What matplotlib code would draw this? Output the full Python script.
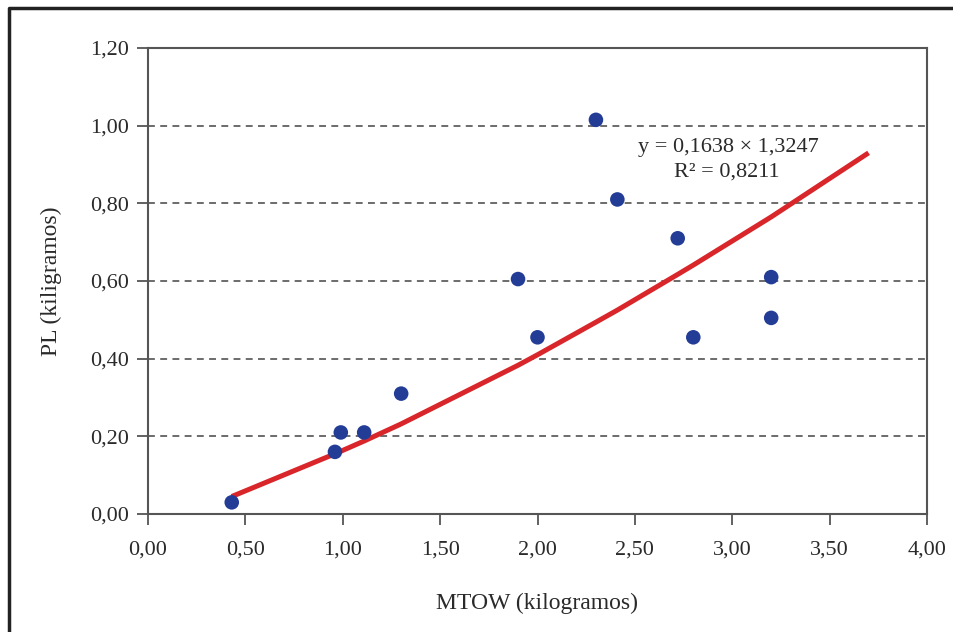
import matplotlib
matplotlib.use("Agg")
import matplotlib.pyplot as plt
from matplotlib.lines import Line2D

# Data
mtow = [0.43, 0.96, 0.99, 1.11, 1.30, 1.90, 2.00, 2.30, 2.41, 2.72, 2.80, 3.20, 3.20]
pl = [0.03, 0.16, 0.21, 0.21, 0.31, 0.605, 0.455, 1.015, 0.81, 0.71, 0.455, 0.61, 0.505]

# Trend line (power fit) points
trend_x = [0.43, 0.96, 1.11, 1.30, 1.90, 2.00, 2.30, 2.41, 2.72, 2.80, 3.20, 3.70]
trend_y = [0.045, 0.155, 0.188, 0.232, 0.383, 0.410, 0.494, 0.525, 0.617, 0.641, 0.765, 0.930]

xticks = [0.0, 0.5, 1.0, 1.5, 2.0, 2.5, 3.0, 3.5, 4.0]
yticks = [0.0, 0.2, 0.4, 0.6, 0.8, 1.0, 1.2]
xlabels = ["0,00", "0,50", "1,00", "1,50", "2,00", "2,50", "3,00", "3,50", "4,00"]
ylabels = ["0,00", "0,20", "0,40", "0,60", "0,80", "1,00", "1,20"]

eq_text = "y = 0,1638 × 1,3247"
r2_text = "R² = 0,8211"

plt.rcParams['font.family'] = ['Liberation Serif', 'DejaVu Serif']

fig = plt.figure(figsize=(9.54, 6.32), dpi=100)
ax = fig.add_axes([148/954, 1-514/632, (927-148)/954, (514-48)/632])

ax.set_xlim(0, 4.0)
ax.set_ylim(0, 1.2)

# grid
for yv in yticks[1:-1]:
    ax.axhline(yv, color='#444444', lw=1.1, ls=(0, (4.5, 3.5)), zorder=1)

ax.plot(trend_x, trend_y, color='#d9262b', lw=3.6, zorder=2, solid_capstyle='butt')
ax.scatter(mtow, pl, s=110, color='#233d96', zorder=3, edgecolors='none')

ax.set_xticks(xticks)
ax.set_xticklabels(xlabels)
ax.set_yticks(yticks)
ax.set_yticklabels(ylabels)
ax.tick_params(axis='both', direction='out', length=8, width=1.3, color='#555555',
               labelsize=16, labelcolor='#2a2a2a', pad=6)
ax.tick_params(axis='x', pad=11)

for s in ax.spines.values():
    s.set_color('#555555')
    s.set_linewidth(1.5)

ax.set_xlabel("MTOW (kilogramos)", fontsize=17, color='#2a2a2a', labelpad=24)
ax.set_ylabel("PL (kiligramos)", fontsize=17, color='#2a2a2a', labelpad=20)

ax.text(2.98, 0.945, eq_text, fontsize=16, color='#2a2a2a', ha='center', va='center')
ax.text(2.97, 0.880, r2_text, fontsize=16, color='#2a2a2a', ha='center', va='center')

# figure frame (left and top edges)
fig.add_artist(Line2D([9/954, 9/954, 1.0], [0.0, 1-8/632, 1-8/632],
                      transform=fig.transFigure, color='#222222', lw=2.5))

fig.savefig("out.png", dpi=100)
